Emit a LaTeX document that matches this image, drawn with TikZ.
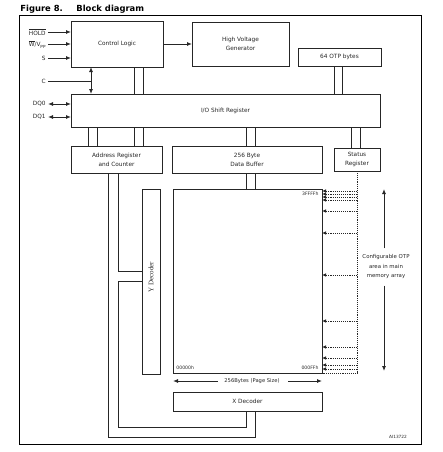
\documentclass[tikz,border=0pt]{standalone}
\usepackage{fontspec}
\setmainfont{DejaVu Sans}
\newfontfamily\serifF{Liberation Serif}
\usetikzlibrary{arrows.meta}
\begin{document}
\begin{tikzpicture}[x=1pt,y=-1pt,
  line width=0.9pt, color=black!85,
  blk/.style={draw, inner sep=0pt, outer sep=0pt, align=center, font=\fontsize{5.8}{9}\selectfont},
  lbl/.style={inner sep=0pt, font=\fontsize{5.8}{9}\selectfont},
  arr/.style={-{Latex[length=5pt,width=4pt]}},
  darr/.style={{Latex[length=5pt,width=4pt]}-{Latex[length=5pt,width=4pt]}},
  dotarr/.style={densely dotted, line width=0.9pt, -{Latex[length=4pt,width=3.6pt]}},
]
\useasboundingbox (0,0) rectangle (442,452);
% title
\node[anchor=west, inner sep=0pt, font=\fontsize{8.4}{10}\selectfont\bfseries, text=black] (t1) at (20,9) {Figure 8.};
\node[anchor=west, inner sep=0pt, font=\fontsize{8.4}{10}\selectfont\bfseries, text=black] (t2) at (76,9) {Block diagram};
% frame
\draw[line width=1pt, black] (19,16) rectangle (421,444);

% blocks
\node[blk, minimum width=92pt, minimum height=46pt] (ctrl) at (117,44) {Control Logic};
\node[blk, minimum width=97pt, minimum height=44pt] (hv) at (240.5,44) {High Voltage\\Generator};
\node[blk, minimum width=83pt, minimum height=18pt] (otp) at (339.5,57) {64 OTP bytes};
\node[blk, minimum width=309pt, minimum height=33pt] (io) at (225.5,110.5) {I/O Shift Register};
\node[blk, minimum width=91pt, minimum height=27pt] (addr) at (116.5,159.5) {Address Register\\and Counter};
\node[blk, minimum width=150pt, minimum height=27pt] (dbuf) at (247,159.5) {256 Byte\\Data Buffer};
\node[blk, minimum width=46pt, minimum height=23pt] (stat) at (357,159.5) {Status\\Register};
\node[blk, minimum width=149pt, minimum height=184pt] (mem) at (247.5,281) {};
\node[blk, minimum width=18pt, minimum height=185pt] (ydec) at (151,281.5) {};
\node[inner sep=0pt, rotate=90, font=\serifF\fontsize{7}{8}\selectfont] (ylbl) at (151,277) {Y Decoder};
\node[blk, minimum width=149pt, minimum height=19pt] (xdec) at (247.5,401.5) {X Decoder};

% input labels
\node[lbl, anchor=east] (hold) at (46,32) {$\overline{\mbox{HOLD}}$};
\node[lbl, anchor=east] (wvpp) at (46,44.5) {$\overline{\mbox{W}}$/V\raisebox{-0.7ex}{\fontsize{4.2}{5}\selectfont PP}};
\node[lbl, anchor=east] (s) at (46,58) {S};
\node[lbl, anchor=east] (c) at (46,81) {C};
\node[lbl, anchor=east] (dq0) at (46,104) {DQ0};
\node[lbl, anchor=east] (dq1) at (46,117) {DQ1};

\draw[arr] (48,0 |- hold) -- (ctrl.west |- hold);
\draw[arr] (48,44) -- (ctrl.west |- 0,44);
\draw[arr] (48,0 |- s) -- (ctrl.west |- s);
\draw[darr] (48,0 |- dq0) -- (io.west |- dq0);
\draw[darr] (48,0 |- dq1) -- (io.west |- dq1);
\draw (48,0 |- c) -- (91,0 |- c);
\draw[darr] (91,0 |- ctrl.south) -- (91,0 |- io.north);

\draw[arr] (ctrl.east) -- (hv.west);

% buses
\foreach \xx in {134,143} \draw (\xx,0 |- ctrl.south) -- (\xx,0 |- io.north);
\foreach \xx in {334,342} \draw (\xx,0 |- otp.south) -- (\xx,0 |- io.north);
\foreach \xx in {88,97,134,143} \draw (\xx,0 |- io.south) -- (\xx,0 |- addr.north);
\foreach \xx in {246,255} \draw (\xx,0 |- io.south) -- (\xx,0 |- dbuf.north);
\foreach \xx in {351,360} \draw (\xx,0 |- io.south) -- (\xx,0 |- stat.north);
\foreach \xx in {246,255} \draw (\xx,0 |- dbuf.south) -- (\xx,0 |- mem.north);

% address lines to decoders
\draw (108,0 |- addr.south) -- (108,437) -- (255,437) -- (255,0 |- xdec.south);
\draw (118,0 |- addr.south) -- (118,271) -- (ydec.west |- 0,271);
\draw (ydec.west |- 0,281) -- (118,281) -- (118,427) -- (246,427) -- (246,0 |- xdec.south);

% memory labels
\node[lbl, anchor=east, font=\fontsize{4.6}{5}\selectfont] (a3f) at (319,194) {3FFFFh};
\node[lbl, anchor=west, font=\fontsize{4.6}{5}\selectfont] (a00) at (176,368) {00000h};
\node[lbl, anchor=east, font=\fontsize{4.6}{5}\selectfont] (aff) at (319,368) {000FFh};

\node[lbl, font=\fontsize{5.2}{6}\selectfont] (page) at (252,381) {256Bytes (Page Size)};
\draw[arr] ([xshift=-6pt]page.west) -- (mem.west |- page);
\draw[arr] ([xshift=8pt]page.east) -- (mem.east |- page);

% dotted OTP arrows
\draw[densely dotted] (stat.south) -- (stat.south |- 0,373) -- (mem.east |- 0,373);
\foreach \yy in {191,194,197,200,211,233,275,321,347,358,365,369}
  \draw[dotarr] (stat.south |- 0,\yy) -- (mem.east |- 0,\yy);

% configurable OTP
\node[lbl, align=center, font=\fontsize{5.4}{9.5}\selectfont] (cfg) at (386,267) {Configurable OTP\\area in main\\memory array};
\coordinate (cfgtop) at (384,189);
\coordinate (cfgbot) at (384,371);
\draw[arr] (cfgtop |- cfg.north) ++(0,-6) -- (cfgtop);
\draw[arr] (cfgbot |- cfg.south) ++(0,6) -- (cfgbot);

\node[lbl, font=\fontsize{4.3}{5}\selectfont] (ai) at (398,437) {AI13722};
\end{tikzpicture}
\end{document}
